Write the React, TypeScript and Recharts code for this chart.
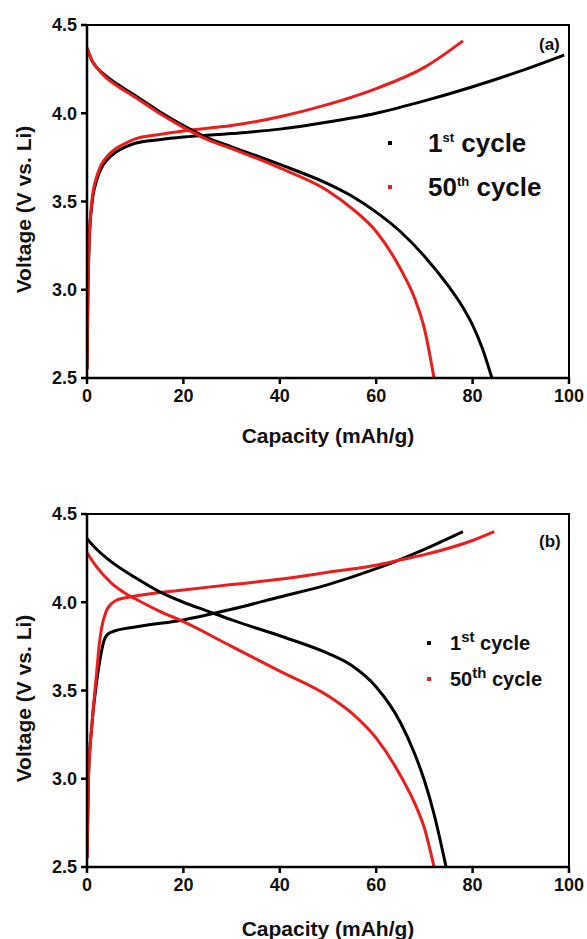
import { LineChart, Line, XAxis, YAxis, Legend } from 'recharts'

const FONT = '"Liberation Sans", Arial, sans-serif'
const RED = '#ee1c1c'
const BLACK = '#000000'

const xTicks = [0, 20, 40, 60, 80, 100]
const yTicks = [2.5, 3.0, 3.5, 4.0, 4.5]

const legendBase = ['1', '50']
const legendSup = ['st', 'th']

// panel (a)
const aChg1Cap = [0, 0.2, 0.5, 1, 2, 3, 4, 6, 8, 10, 15, 20, 30, 40, 50, 60, 70, 80, 90, 99]
const aChg1V = [2.55, 3.0, 3.3, 3.48, 3.62, 3.69, 3.73, 3.78, 3.81, 3.83, 3.85, 3.865, 3.885, 3.91, 3.95, 4.0, 4.07, 4.15, 4.24, 4.33]
const aChg50Cap = [0, 0.2, 0.5, 1, 2, 3, 4, 6, 8, 10, 15, 20, 30, 40, 50, 60, 70, 78]
const aChg50V = [2.55, 3.0, 3.3, 3.5, 3.64, 3.71, 3.75, 3.8, 3.83, 3.855, 3.88, 3.9, 3.93, 3.98, 4.05, 4.14, 4.26, 4.41]
const aDis1Cap = [0, 1, 2, 4, 6, 10, 15, 20, 25, 30, 40, 50, 55, 60, 65, 70, 75, 78, 80, 82, 84]
const aDis1V = [4.37, 4.3, 4.26, 4.21, 4.17, 4.1, 4.01, 3.93, 3.86, 3.81, 3.71, 3.6, 3.53, 3.44, 3.33, 3.19, 3.02, 2.9, 2.8, 2.67, 2.5]
const aDis50Cap = [0, 1, 2, 4, 6, 10, 15, 20, 25, 30, 40, 50, 55, 60, 65, 68, 70, 72]
const aDis50V = [4.37, 4.3, 4.26, 4.2, 4.16, 4.09, 4.0, 3.92, 3.85, 3.8, 3.69, 3.56, 3.46, 3.33, 3.12, 2.95, 2.78, 2.5]

// panel (b)
const bChg1Cap = [0, 0.3, 1, 2, 3, 3.5, 4, 5, 10, 20, 30, 40, 50, 60, 70, 78]
const bChg1V = [2.55, 3.0, 3.3, 3.55, 3.72, 3.78, 3.81, 3.83, 3.86, 3.9, 3.96, 4.03, 4.1, 4.19, 4.3, 4.4]
const bChg50Cap = [0, 0.3, 1, 2, 2.5, 3, 4, 5, 6, 8, 10, 20, 30, 40, 50, 60, 65, 70, 80, 84.5]
const bChg50V = [2.55, 3.0, 3.3, 3.6, 3.75, 3.85, 3.95, 3.99, 4.01, 4.025, 4.035, 4.07, 4.1, 4.13, 4.17, 4.21, 4.24, 4.27, 4.35, 4.4]
const bDis1Cap = [0, 2, 5, 10, 15, 20, 25, 30, 40, 50, 55, 60, 65, 68, 70, 72, 74.5]
const bDis1V = [4.36, 4.3, 4.23, 4.14, 4.06, 4.0, 3.95, 3.9, 3.81, 3.71, 3.64, 3.52, 3.32, 3.14, 2.99, 2.8, 2.5]
const bDis50Cap = [0, 2, 5, 8, 10, 15, 20, 30, 40, 50, 55, 60, 65, 68, 70, 72]
const bDis50V = [4.28, 4.2, 4.11, 4.05, 4.02, 3.95, 3.89, 3.75, 3.61, 3.47, 3.37, 3.23, 3.02, 2.86, 2.72, 2.5]

const zip = (cap: number[], v: number[]) => cap.map((c, i) => ({ cap: c, v: v[i] }))

const tickStyle = { fontSize: 18, fontWeight: 700, fill: '#111', fontFamily: FONT }
const axisStroke = { stroke: '#000', strokeWidth: 2.5 }

const Y_AXIS_W = 87
const RIGHT = 18

function XTitle(dy: number) {
  return (props: any) => {
    const vb = props.viewBox
    return (
      <text x={vb.x + vb.width / 2} y={vb.y + dy} textAnchor="middle" dominantBaseline="central"
        style={{ fontSize: 21, fontWeight: 700, fontFamily: FONT, fill: '#111' }}>
        Capacity (mAh/g)
      </text>
    )
  }
}

function YTitle(props: any) {
  const vb = props.viewBox
  const cx = 23
  const cy = vb.y + vb.height / 2 + 8
  return (
    <text x={cx} y={cy} transform={`rotate(-90 ${cx} ${cy})`} textAnchor="middle" dominantBaseline="central"
      style={{ fontSize: 21, fontWeight: 700, fontFamily: FONT, fill: '#111' }}>
      Voltage (V vs. Li)
    </text>
  )
}

function makeLegend(fontSize: number, supSize: number, rowGap: number, textLeft: number) {
  return (props: any) => {
    const items = (props.payload || []).filter((p: any) => p.type !== 'none')
    return (
      <div style={{ position: 'relative', fontFamily: FONT, fontWeight: 700, color: '#111' }}>
        {items.map((p: any, i: number) => (
          <div key={i} style={{ position: 'absolute', left: 0, top: i * rowGap, height: rowGap, display: 'flex', alignItems: 'center', whiteSpace: 'nowrap' }}>
            <span style={{ width: 4, height: 4, background: p.color, display: 'inline-block' }} />
            <span style={{ position: 'absolute', left: textLeft, fontSize, lineHeight: 1 }}>
              {legendBase[i]}
              <sup style={{ fontSize: supSize, verticalAlign: 'super', lineHeight: 0 }}>{legendSup[i]}</sup>
              {' cycle'}
            </span>
          </div>
        ))}
      </div>
    )
  }
}

interface PanelProps {
  height: number
  top: number
  xAxisH: number
  titleDy: number
  chg1: { cap: number; v: number }[]
  chg50: { cap: number; v: number }[]
  dis1: { cap: number; v: number }[]
  dis50: { cap: number; v: number }[]
  tag: string
  tagTop: number
  legend: any
  legendLeft: number
  legendTop: number
}

function Panel(p: PanelProps) {
  const plotH = p.height - p.top - p.xAxisH
  return (
    <div style={{ position: 'relative', width: 587, height: p.height }}>
      <LineChart width={587} height={p.height} margin={{ top: p.top, right: RIGHT, bottom: 0, left: 0 }}>
        <XAxis
          dataKey="cap"
          type="number"
          domain={[0, 100]}
          ticks={xTicks}
          allowDataOverflow
          height={p.xAxisH}
          tick={tickStyle}
          tickSize={6}
          tickMargin={5}
          axisLine={axisStroke}
          tickLine={axisStroke}
          label={{ content: XTitle(p.titleDy) }}
        />
        <YAxis
          type="number"
          domain={[2.5, 4.5]}
          ticks={yTicks}
          allowDataOverflow
          width={Y_AXIS_W}
          tick={tickStyle}
          tickSize={6}
          tickMargin={4}
          tickFormatter={(v: number) => v.toFixed(1)}
          axisLine={axisStroke}
          tickLine={axisStroke}
          label={{ content: YTitle }}
        />
        <Legend layout="vertical" align="center" verticalAlign="middle" content={p.legend}
          wrapperStyle={{ left: p.legendLeft, top: p.legendTop, width: 200, height: 90 }} />
        <Line data={p.chg1} dataKey="v" name="1st cycle" type="monotone" stroke={BLACK} strokeWidth={3} dot={false} isAnimationActive={false} />
        <Line data={p.chg50} dataKey="v" name="50th cycle" type="monotone" stroke={RED} strokeWidth={3} dot={false} isAnimationActive={false} />
        <Line data={p.dis1} dataKey="v" type="monotone" stroke={BLACK} strokeWidth={3} dot={false} legendType="none" isAnimationActive={false} />
        <Line data={p.dis50} dataKey="v" type="monotone" stroke={RED} strokeWidth={3} dot={false} legendType="none" isAnimationActive={false} />
      </LineChart>
      {/* top and right frame edges */}
      <div style={{
        position: 'absolute', left: Y_AXIS_W, top: p.top - 1, width: 587 - Y_AXIS_W - RIGHT + 1, height: plotH + 1,
        borderTop: '2.5px solid #000', borderRight: '2.5px solid #000', pointerEvents: 'none', boxSizing: 'border-box',
      }} />
      <div style={{ position: 'absolute', left: 539, top: p.tagTop, fontFamily: FONT, fontWeight: 700, fontSize: 17, color: '#111' }}>
        {p.tag}
      </div>
    </div>
  )
}

export default function App() {
  return (
    <div style={{ width: 587, height: 939, background: '#fff' }}>
      <style>{'body{margin:0}'}</style>
      <Panel height={470} top={25} xAxisH={92} titleDy={57}
        chg1={zip(aChg1Cap, aChg1V)} chg50={zip(aChg50Cap, aChg50V)}
        dis1={zip(aDis1Cap, aDis1V)} dis50={zip(aDis50Cap, aDis50V)}
        tag="(a)" tagTop={35}
        legend={makeLegend(26, 13, 44, 40)} legendLeft={388} legendTop={121} />
      <Panel height={469} top={44} xAxisH={72} titleDy={61}
        chg1={zip(bChg1Cap, bChg1V)} chg50={zip(bChg50Cap, bChg50V)}
        dis1={zip(bDis1Cap, bDis1V)} dis50={zip(bDis50Cap, bDis50V)}
        tag="(b)" tagTop={62}
        legend={makeLegend(20, 15, 36, 23)} legendLeft={427} legendTop={155} />
    </div>
  )
}
